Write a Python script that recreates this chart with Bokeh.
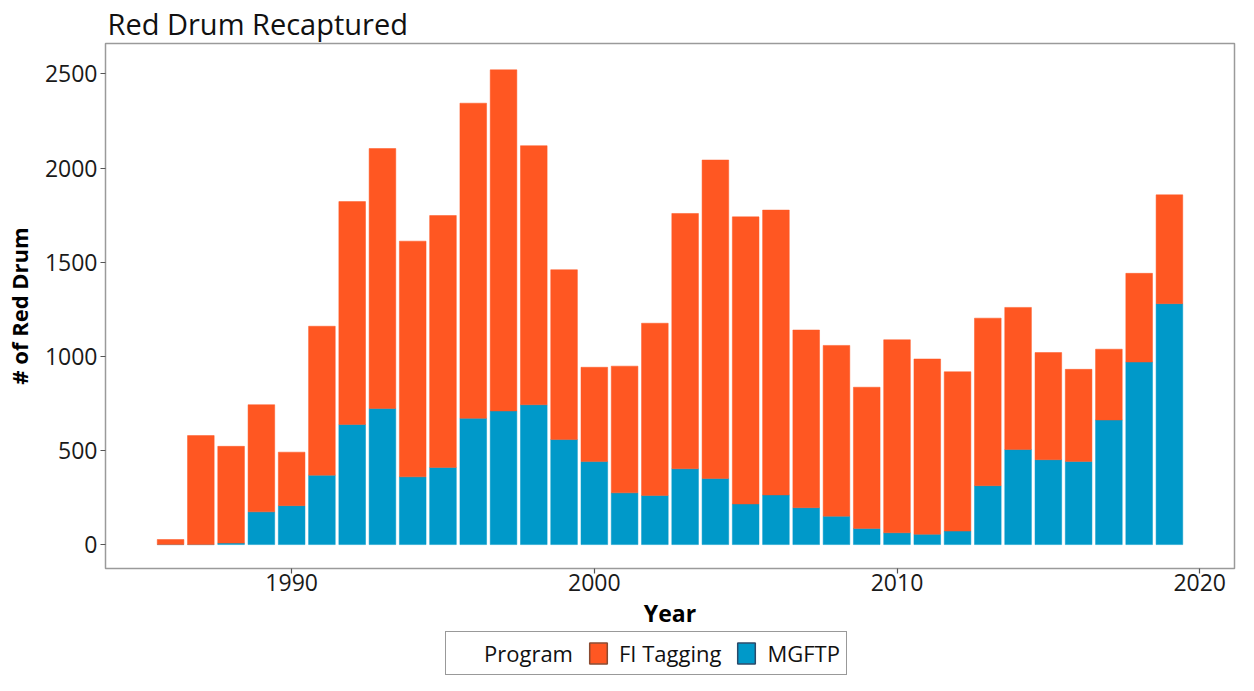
from bokeh.plotting import figure
from bokeh.layouts import column
from bokeh.models import (ColumnDataSource, Range1d, FixedTicker, Legend, LegendItem,
                          CDSView, IndexFilter)
from bokeh.embed import file_html
from bokeh.resources import INLINE

years = list(range(1986, 2020))
mgftp = [0, 0, 8, 174, 207, 369, 638, 723, 360, 410, 671, 710, 743, 558, 441, 275, 261,
         403, 351, 216, 264, 196, 151, 86, 63, 55, 72, 313, 505, 451, 442, 662, 970, 1280]
fi_tagging = [27, 579, 514, 569, 284, 791, 1184, 1381, 1252, 1338, 1674, 1812, 1376, 902,
              501, 673, 915, 1356, 1692, 1525, 1513, 944, 907, 750, 1025, 931, 846, 890,
              755, 569, 489, 376, 471, 578]
programs = ["MGFTP", "FI Tagging"]
colors = {"FI Tagging": "#FF5722", "MGFTP": "#0099C9"}
key_outline = {"FI Tagging": "#8a4a30", "MGFTP": "#2a4a6a"}
y_ticks = [0, 500, 1000, 1500, 2000, 2500]
x_ticks = [1990, 2000, 2010, 2020]

FONT = "Open Sans"

src = ColumnDataSource(dict(year=years, MGFTP=mgftp, **{"FI Tagging": fi_tagging}))

# ---------------- main chart ----------------
p = figure(width=1238, height=631,
           x_range=Range1d(1983.85, 2021.15), y_range=Range1d(-127, 2662),
           output_backend="svg", toolbar_location=None,
           title="Red Drum Recaptured")
p.min_border_left = 98
p.min_border_right = 4
p.min_border_top = 41
p.min_border_bottom = 60
p.background_fill_color = "white"
p.border_fill_color = "white"
p.outline_line_color = "#9a9a9a"
p.outline_line_width = 1.5
p.xgrid.visible = False
p.ygrid.visible = False

p.title.text_font = FONT
p.title.text_font_size = "29px"
p.title.text_font_style = "normal"
p.title.text_color = "#111111"
p.title.standoff = 2
p.title.offset = 2

rs = p.vbar_stack(programs, x="year", width=0.88, source=src,
                  fill_color=[colors[k] for k in programs],
                  line_color=[colors[k] for k in programs], line_width=0.5)

for ax in (p.xaxis[0], p.yaxis[0]):
    ax.axis_line_color = None
    ax.major_tick_line_color = "#555555"
    ax.major_tick_line_width = 1.2
    ax.major_tick_in = 0
    ax.major_tick_out = 5
    ax.minor_tick_line_color = None
    ax.major_label_text_font = FONT
    ax.major_label_text_font_size = "23px"
    ax.major_label_text_color = "#1a1a1a"
    ax.axis_label_text_font = FONT
    ax.axis_label_text_font_style = "bold"
    ax.axis_label_text_color = "#000000"

p.xaxis.ticker = FixedTicker(ticks=x_ticks)
p.yaxis.ticker = FixedTicker(ticks=y_ticks)
p.xaxis.axis_label = "Year"
p.yaxis.axis_label = "# of Red Drum"
p.xaxis.axis_label_text_font_size = "23px"
p.yaxis.axis_label_text_font_size = "22px"
p.xaxis.major_label_standoff = 0
p.yaxis.major_label_standoff = 3
p.xaxis.axis_label_standoff = 3
p.yaxis.axis_label_standoff = 8

# ---------------- legend strip ----------------
# The strip's ranges put the single key row (first year) underneath the opaque
# legend box, so only the legend swatches are seen.
lg = figure(width=1238, height=44, x_range=Range1d(1968.3, 2005.6),
            y_range=Range1d(-20, 40),
            output_backend="svg", toolbar_location=None)
lg.min_border = 0
lg.axis.visible = False
lg.grid.visible = False
lg.outline_line_color = None
lg.background_fill_color = "white"
lg.border_fill_color = "white"

keys = lg.vbar_stack(programs, x="year", width=0.9, source=src,
                     view=CDSView(filter=IndexFilter(indices=[0])),
                     fill_color=[colors[k] for k in programs],
                     line_color=[key_outline[k] for k in programs], line_width=1.5)
blank = lg.vbar(x="year", top="MGFTP", width=0.9, source=src,
                view=CDSView(filter=IndexFilter(indices=[0])),
                fill_alpha=0, line_alpha=0)

legend = Legend(items=[LegendItem(label="Program", renderers=[blank]),
                       LegendItem(label="FI Tagging", renderers=[keys[1]]),
                       LegendItem(label="MGFTP", renderers=[keys[0]])],
                orientation="horizontal", location=(340, 0))
legend.label_text_font = FONT
legend.label_text_font_size = "22px"
legend.label_text_color = "#111111"
legend.glyph_width = 22
legend.glyph_height = 26
legend.label_standoff = 10
legend.spacing = 14
legend.padding = 6
legend.margin = 0
legend.border_line_color = "#333333"
legend.border_line_width = 1.5
legend.background_fill_color = "white"
legend.background_fill_alpha = 1.0
lg.add_layout(legend)

layout = column(p, lg, spacing=0)
open("out.html", "w").write(file_html(layout, INLINE))
